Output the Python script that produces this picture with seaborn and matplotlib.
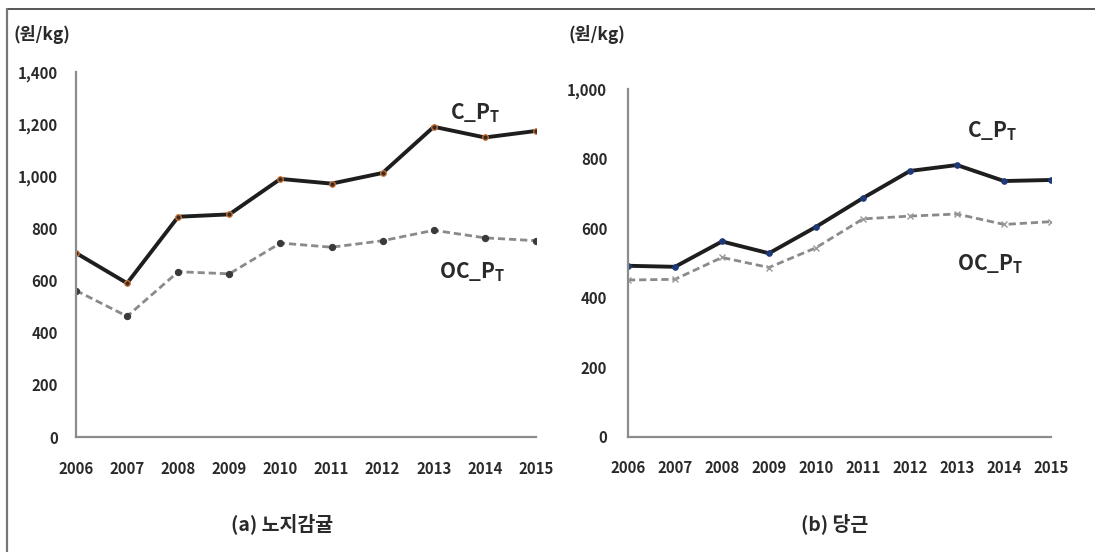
import matplotlib
matplotlib.use("Agg")
import matplotlib.pyplot as plt
import seaborn as sns
import pandas as pd
from matplotlib.lines import Line2D

sns.set_theme(style="white")
plt.rcParams['font.family'] = ['Noto Sans CJK KR', 'DejaVu Sans']
plt.rcParams['mathtext.fontset'] = 'custom'
plt.rcParams['mathtext.rm'] = 'Noto Sans CJK KR:bold'

years = [2006, 2007, 2008, 2009, 2010, 2011, 2012, 2013, 2014, 2015]

# (a) 노지감귤
citrus_c = [706, 590, 845, 854, 990, 972, 1013, 1190, 1149, 1174]
citrus_oc = [562, 463, 634, 626, 744, 728, 753, 793, 764, 753]

# (b) 당근
carrot_c = [492, 489, 562, 528, 604, 687, 765, 782, 736, 739]
carrot_oc = [451, 453, 516, 487, 544, 627, 635, 641, 611, 619]

unit_label = "(원/kg)"
title_a = "(a) 노지감귤"
title_b = "(b) 당근"
label_c = "C_P$_\\mathregular{T}$"
label_oc = "OC_P$_\\mathregular{T}$"

fig = plt.figure(figsize=(10.95, 5.52), dpi=100)
fig.patch.set_facecolor("white")

ax1 = fig.add_axes([0.0694, 0.2083, 0.4201, 0.6612])
ax2 = fig.add_axes([0.5735, 0.2089, 0.3863, 0.6293])

spine_col = "#8c8c8c"
tick_fs = 10.8
txt_col = "#2a2a2a"


def style_axis(ax, ymax, ypad, xpad):
    ax.set_xlim(years[0], years[-1])
    ax.set_ylim(0, ymax)
    ax.set_xticks(years)
    ax.set_xticklabels([str(y) for y in years], fontweight="bold")
    ax.set_yticks(range(0, ymax + 1, 200))
    ax.set_yticklabels([f"{v:,}" for v in range(0, ymax + 1, 200)], fontweight="bold")
    for s in ["top", "right"]:
        ax.spines[s].set_visible(False)
    for s in ["left", "bottom"]:
        ax.spines[s].set_color(spine_col)
        ax.spines[s].set_linewidth(1.6)
    ax.tick_params(axis="y", direction="in", length=5, width=1.2, color=spine_col,
                   pad=ypad, labelsize=tick_fs, labelcolor=txt_col)
    ax.tick_params(axis="x", direction="in", length=5, width=1.2, color=spine_col,
                   pad=xpad, labelsize=tick_fs, labelcolor=txt_col)
    ax.grid(False)
    ax.set_xlabel("")
    ax.set_ylabel("")
    if ax.get_legend() is not None:
        ax.get_legend().remove()
    ax.set_facecolor("none")


# Panel (a)
sns.lineplot(x=years, y=citrus_oc, ax=ax1, color="#8a8a8a", linewidth=2.0,
             linestyle=(0, (2.6, 1.4)), marker="o", markersize=4.5,
             markerfacecolor="#3a3a3a", markeredgecolor="#3a3a3a")
sns.lineplot(x=years, y=citrus_c, ax=ax1, color="#1e1e1e", linewidth=2.8,
             marker="o", markersize=4, markerfacecolor="#3a2a20",
             markeredgecolor="#d2783a", markeredgewidth=0.9)
style_axis(ax1, 1400, 13, 17)

# Panel (b)
sns.lineplot(x=years, y=carrot_oc, ax=ax2, color="#8a8a8a", linewidth=2.0,
             linestyle=(0, (2.6, 1.4)), marker="x", markersize=5,
             markeredgecolor="#9a9a9a", markeredgewidth=1.0)
sns.lineplot(x=years, y=carrot_c, ax=ax2, color="#1e1e1e", linewidth=2.8,
             marker="o", markersize=4, markerfacecolor="#1f3a78",
             markeredgecolor="#1f3a78")
style_axis(ax2, 1000, 15, 17)

label_kw = dict(fontsize=15, color=txt_col, ha="center", va="center", fontweight="bold")
fig.text(475 / 1095, 1 - 113 / 552, label_c, **label_kw)
fig.text(472 / 1095, 1 - 272 / 552, label_oc, **label_kw)
fig.text(992 / 1095, 1 - 131 / 552, label_c, **label_kw)
fig.text(990 / 1095, 1 - 264 / 552, label_oc, **label_kw)

fig.text(42 / 1095, 1 - 35 / 552, unit_label, fontsize=12.5, color=txt_col,
         ha="center", va="center", fontweight="bold")
fig.text(597 / 1095, 1 - 35 / 552, unit_label, fontsize=12.5, color=txt_col,
         ha="center", va="center", fontweight="bold")

fig.text(282 / 1095, 1 - 524 / 552, title_a, fontsize=14, color=txt_col,
         ha="center", va="center", fontweight="bold")
fig.text(835 / 1095, 1 - 524 / 552, title_b, fontsize=14, color=txt_col,
         ha="center", va="center", fontweight="bold")

# frame lines (top and left)
fig.add_artist(Line2D([7 / 1095, 1.0], [1 - 9 / 552, 1 - 9 / 552],
                      transform=fig.transFigure, color="#555555", linewidth=1.4))
fig.add_artist(Line2D([7 / 1095, 7 / 1095], [0.0, 1 - 9 / 552],
                      transform=fig.transFigure, color="#777777", linewidth=1.6))

fig.savefig("out.png", dpi=100, facecolor="white")
